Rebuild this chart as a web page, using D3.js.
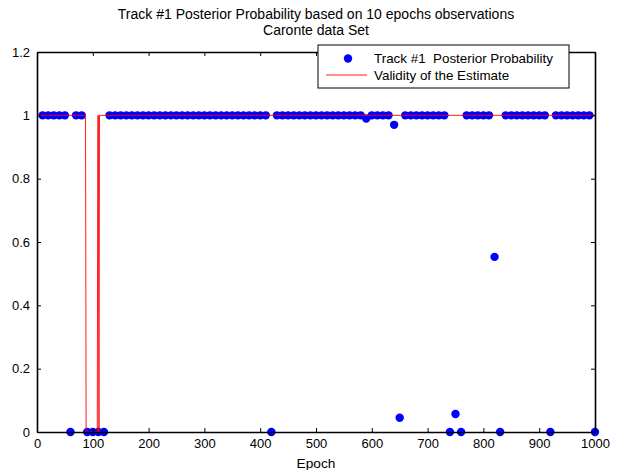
<!DOCTYPE html>
<html>
<head>
<meta charset="utf-8">
<script src="https://cdn.jsdelivr.net/npm/d3@7"></script>
<style>
  body { margin: 0; background: #fff; }
  svg { display: block; font-family: "Liberation Sans", Arial, sans-serif; }
</style>
</head>
<body>
<svg id="chart" width="619" height="470"></svg>
<script>
// posterior probability, one sample every 10 epochs
const epochs = [
  10, 20, 30, 40, 50, 60, 70, 80, 90, 100,
  110, 120, 130, 140, 150, 160, 170, 180, 190, 200,
  210, 220, 230, 240, 250, 260, 270, 280, 290, 300,
  310, 320, 330, 340, 350, 360, 370, 380, 390, 400,
  410, 420, 430, 440, 450, 460, 470, 480, 490, 500,
  510, 520, 530, 540, 550, 560, 570, 580, 590, 600,
  610, 620, 630, 640, 650, 660, 670, 680, 690, 700,
  710, 720, 730, 740, 750, 760, 770, 780, 790, 800,
  810, 820, 830, 840, 850, 860, 870, 880, 890, 900,
  910, 920, 930, 940, 950, 960, 970, 980, 990, 1000
];
const posterior = [
  1, 1, 1, 1, 1, 0, 1, 1, 0, 0,
  0, 0, 1, 1, 1, 1, 1, 1, 1, 1,
  1, 1, 1, 1, 1, 1, 1, 1, 1, 1,
  1, 1, 1, 1, 1, 1, 1, 1, 1, 1,
  1, 0, 1, 1, 1, 1, 1, 1, 1, 1,
  1, 1, 1, 1, 1, 1, 1, 1, 0.99, 1,
  1, 1, 1, 0.97, 0.045, 1, 1, 1, 1, 1,
  1, 1, 1, 0, 0.057, 0, 1, 1, 1, 1,
  1, 0.553, 0, 1, 1, 1, 1, 1, 1, 1,
  1, 0, 1, 1, 1, 1, 1, 1, 1, 0
];

// validity of the estimate (step line)
const validityEpochs = [0, 87, 88, 108, 109, 110, 111, 112, 1000];
const validity = [1, 1, 0, 0, 1, 1, 0, 1, 1];

const xTicks = [0, 100, 200, 300, 400, 500, 600, 700, 800, 900, 1000];
const yTicks = [0, 0.2, 0.4, 0.6, 0.8, 1, 1.2];

const titleLines = [
  "Track #1 Posterior Probability based on 10 epochs observations",
  "Caronte data Set"
];
const legendLabels = ["Track #1  Posterior Probability", "Validity of the Estimate"];

const plotLeft = 37, plotRight = 595, plotTop = 52, plotBottom = 432;
const tickFont = 13;

const svg = d3.select("#chart");

const xScale = d3.scaleLinear().domain([0, 1000]).range([plotLeft, plotRight]);
const yScale = d3.scaleLinear().domain([0, 1.2]).range([plotBottom, plotTop]);

// dots
const points = epochs.map((e, i) => ({ e, p: posterior[i] }));
svg.append("g")
  .selectAll("circle")
  .data(points)
  .join("circle")
  .attr("cx", d => xScale(d.e))
  .attr("cy", d => yScale(d.p))
  .attr("r", 4.2)
  .style("fill", "#0000ff");

// validity line on top of the dots
const valid = validityEpochs.map((e, i) => ({ e, v: validity[i] }));
svg.append("path")
  .datum(valid)
  .attr("d", d3.line().x(d => xScale(d.e)).y(d => yScale(d.v)))
  .style("fill", "none")
  .style("stroke", "#ff0000")
  .style("stroke-width", 0.9);

// axes box, MATLAB style ticks pointing inward on all four sides
const fmt = d3.format("~g");
const tickLen = 4;
svg.append("g")
  .attr("transform", `translate(0,${plotBottom})`)
  .call(d3.axisBottom(xScale).tickValues(xTicks).tickFormat(fmt).tickSizeInner(-tickLen).tickSizeOuter(0).tickPadding(7));
svg.append("g")
  .attr("transform", `translate(0,${plotTop})`)
  .call(d3.axisTop(xScale).tickValues(xTicks).tickFormat("").tickSizeInner(-tickLen).tickSizeOuter(0));
svg.append("g")
  .attr("transform", `translate(${plotLeft},0)`)
  .call(d3.axisLeft(yScale).tickValues(yTicks).tickFormat(fmt).tickSizeInner(-tickLen).tickSizeOuter(0).tickPadding(7));
svg.append("g")
  .attr("transform", `translate(${plotRight},0)`)
  .call(d3.axisRight(yScale).tickValues(yTicks).tickFormat("").tickSizeInner(-tickLen).tickSizeOuter(0));

svg.selectAll(".domain").style("stroke", "#000").style("stroke-width", 1.6);
svg.selectAll(".tick line").style("stroke", "#000");
svg.selectAll(".tick text")
  .style("font-size", tickFont + "px")
  .style("font-family", "'Liberation Sans', Arial, sans-serif")
  .style("fill", "#000");

// title
svg.append("g")
  .selectAll("text")
  .data(titleLines)
  .join("text")
  .attr("x", (plotLeft + plotRight) / 2)
  .attr("y", (d, i) => 19 + i * 16)
  .attr("text-anchor", "middle")
  .style("font-size", "14px")
  .text(d => d);

svg.append("text")
  .attr("x", (plotLeft + plotRight) / 2)
  .attr("y", 468)
  .attr("text-anchor", "middle")
  .style("font-size", "13.7px")
  .text("Epoch");

// legend
const legend = svg.append("g").attr("transform", "translate(318,45)");
legend.append("rect")
  .attr("width", 251)
  .attr("height", 43)
  .style("fill", "#fff")
  .style("stroke", "#000")
  .style("stroke-width", 1);
legend.append("circle")
  .attr("cx", 30).attr("cy", 13.5).attr("r", 4.2)
  .style("fill", "#0000ff");
legend.append("line")
  .attr("x1", 8).attr("x2", 49).attr("y1", 30).attr("y2", 30)
  .style("stroke", "#ff0000").style("stroke-width", 0.9);
legend.selectAll("text.lab")
  .data(legendLabels)
  .join("text")
  .attr("class", "lab")
  .attr("x", 56)
  .attr("y", (d, i) => 17.5 + i * 17)
  .style("font-size", "13.4px")
  .style("white-space", "pre")
  .text(d => d);
</script>
</body>
</html>
